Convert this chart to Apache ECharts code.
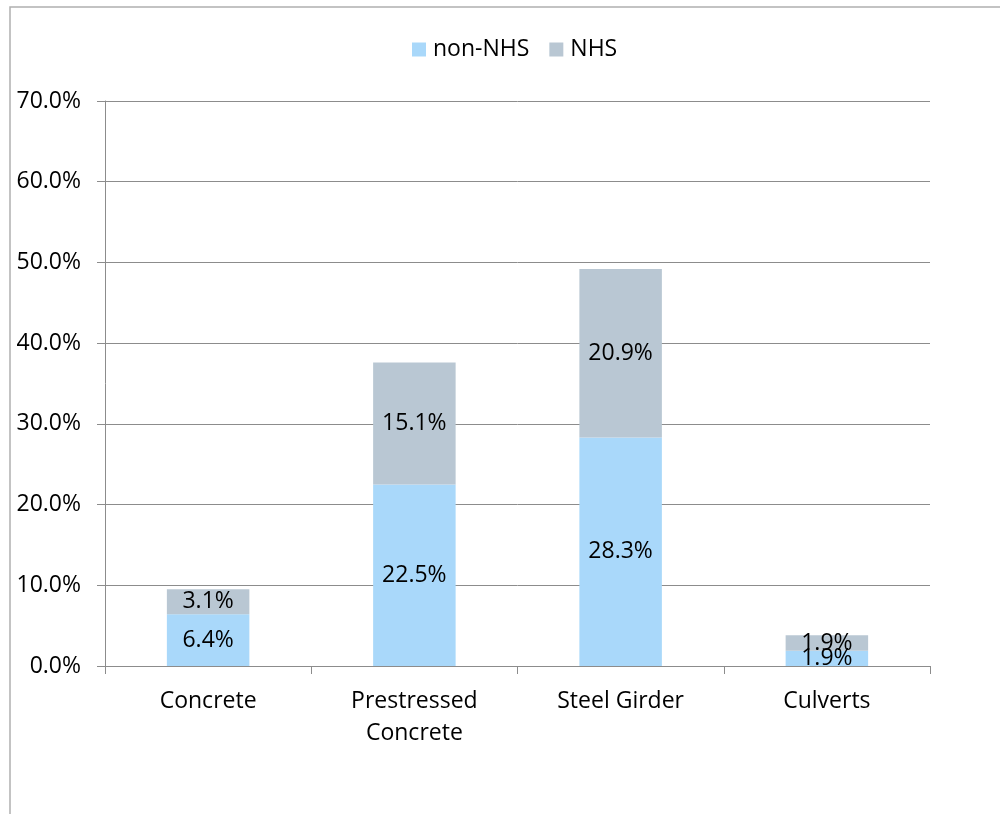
<!DOCTYPE html>
<html>
<head>
<meta charset="utf-8">
<script src="https://cdn.jsdelivr.net/npm/echarts@6/dist/echarts.min.js"></script>
<style>
  html, body { margin: 0; padding: 0; background: #fff; }
  #chart { width: 1000px; height: 814px; }
</style>
</head>
<body>
<div id="chart"></div>
<script>
// Share of bridges by structure type, split by network
const categories = ['Concrete', 'Prestressed\nConcrete', 'Steel Girder', 'Culverts'];
const nonNhs = [6.4, 22.5, 28.3, 1.9];
const nhs = [3.1, 15.1, 20.9, 1.9];
const yTicks = { min: 0, max: 70, interval: 10 };

const FONT = '"Open Sans", "Noto Sans", sans-serif';
const FS = 23;
const pct = v => v.toFixed(1) + '%';

const chart = echarts.init(document.getElementById('chart'), null, { renderer: 'canvas' });

const labelStyle = {
  show: true,
  position: 'inside',
  color: '#000',
  fontFamily: FONT,
  fontSize: FS,
  formatter: p => pct(p.value)
};

chart.setOption({
  animation: false,
  backgroundColor: '#fff',
  graphic: [{
    type: 'rect',
    shape: { x: 10, y: 7, width: 1000, height: 820 },
    style: { fill: 'none', stroke: '#b0b0b0', lineWidth: 1.5 },
    silent: true
  }],
  legend: {
    top: 33,
    left: 407,
    itemWidth: 14,
    itemHeight: 14,
    itemGap: 20,
    icon: 'rect',
    textStyle: { fontFamily: FONT, fontSize: FS, color: '#000', padding: [0, 0, 0, 2] },
    data: ['non-NHS', 'NHS']
  },
  grid: { left: 105, right: 70, top: 101, bottom: 148, containLabel: false },
  xAxis: {
    type: 'category',
    data: categories,
    boundaryGap: true,
    axisLine: { show: true, lineStyle: { color: '#8c8c8c', width: 1 } },
    axisTick: { show: true, alignWithLabel: false, length: 8, lineStyle: { color: '#8c8c8c' } },
    axisLabel: {
      color: '#000', fontFamily: FONT, fontSize: FS, margin: 19,
      lineHeight: 32, interval: 0
    }
  },
  yAxis: {
    type: 'value',
    min: yTicks.min,
    max: yTicks.max,
    interval: yTicks.interval,
    axisLine: { show: true, lineStyle: { color: '#8c8c8c', width: 1 } },
    axisTick: { show: true, inside: false, length: 8, lineStyle: { color: '#8c8c8c' } },
    splitLine: { show: true, lineStyle: { color: '#8c8c8c', width: 1 } },
    axisLabel: {
      color: '#000', fontFamily: FONT, fontSize: FS, margin: 24,
      formatter: v => pct(v)
    }
  },
  series: [
    {
      name: 'non-NHS',
      type: 'bar',
      stack: 'total',
      barWidth: '40%',
      itemStyle: { color: '#a9d8fa' },
      label: labelStyle,
      data: nonNhs
    },
    {
      name: 'NHS',
      type: 'bar',
      stack: 'total',
      barWidth: '40%',
      itemStyle: { color: '#b9c7d3' },
      label: labelStyle,
      data: nhs
    }
  ]
});
</script>
</body>
</html>
